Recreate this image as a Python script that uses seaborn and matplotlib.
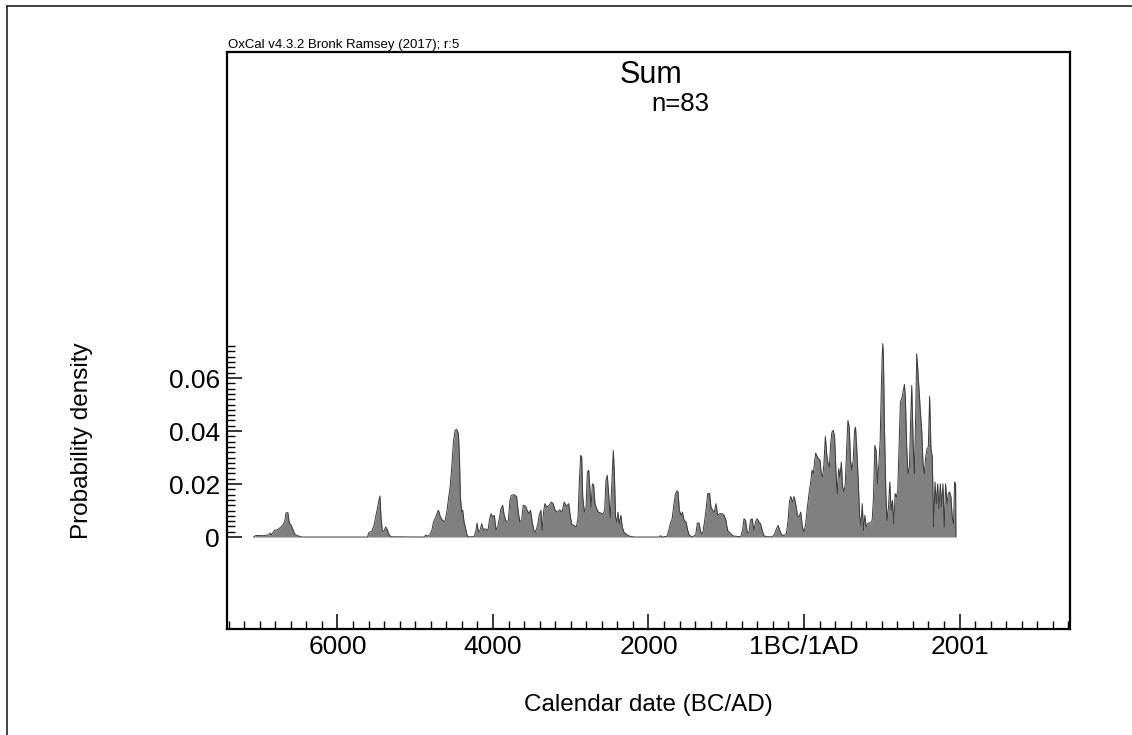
import numpy as np
import pandas as pd
import matplotlib
matplotlib.use("Agg")
import matplotlib.pyplot as plt
from matplotlib.lines import Line2D
from matplotlib.ticker import FixedLocator
import seaborn as sns

# ---- data (x: 0 = 1BC/1AD boundary, negative = BC) ----
years = [
    -7081, -7047, -6961, -6884, -6867, -6850, -6811, -6769, -6726, -6696, -6675, -6662, -6637,
    -6619, -6594, -6573, -6547, -6513, -6470, -6448,
    -5615, -5594, -5560, -5530, -5509, -5487, -5466, -5453, -5440, -5423, -5402, -5380, -5359,
    -5337, -5312,
    -4884, -4863, -4842, -4808, -4786, -4765, -4739, -4714, -4701, -4679, -4649, -4619, -4594,
    -4572, -4551, -4530, -4508, -4487, -4466, -4444, -4431, -4419, -4401, -4389, -4372, -4355,
    -4337, -4320, -4243, -4218, -4205, -4188, -4167, -4145, -4124, -4094, -4064, -4043, -4025,
    -4004, -3983, -3961, -3940, -3919, -3897, -3876, -3855, -3833, -3803, -3782, -3765, -3731,
    -3696, -3675, -3654, -3632, -3611, -3581, -3560, -3538, -3517, -3496, -3474, -3453,
    -3427, -3406, -3384, -3368, -3350, -3333, -3308, -3278, -3248, -3226, -3201, -3171, -3141,
    -3111, -3085, -3055, -3026, -3004, -2987, -2957, -2927, -2906, -2889, -2872, -2859, -2846,
    -2825, -2803, -2786, -2769, -2752, -2739, -2722, -2705, -2688, -2667, -2645, -2615, -2585,
    -2564, -2547, -2530, -2513, -2491, -2470, -2453, -2440, -2423, -2406, -2393, -2376, -2355,
    -2338, -2316, -2286, -2252, -2201, -2167,
    -1867, -1846, -1825, -1761, -1739, -1718, -1696, -1675, -1654, -1637,
    -1620, -1603, -1581, -1564, -1543, -1517, -1496, -1474, -1436, -1393, -1372, -1350, -1329,
    -1304, -1282, -1261, -1239, -1214, -1197, -1175, -1154, -1132, -1111, -1086, -1051, -1026,
    -1004, -983, -944, -910, -816, -791, -773, -752, -731, -709, -688, -667, -645, -624, -603,
    -581, -560, -538, -517, -483, -410, -380, -355, -333, -312, -291, -261, -227, -205, -188,
    -171, -150, -128, -107, -85, -64, -43, -21, 0, 21, 43, 64, 85, 103, 120, 137, 150, 171,
    205, 222, 239, 256, 274, 291, 308, 325, 342, 359, 376, 393, 410, 427, 445, 462, 479, 496,
    513, 530, 547, 564, 581, 598, 615, 632, 650, 662, 679, 697, 714, 731, 748, 765, 782, 799,
    825, 855, 876, 893, 910, 927, 945, 962, 979, 991, 1004, 1013, 1021, 1034, 1051, 1068, 1086,
    1103, 1120, 1137, 1154, 1171, 1188, 1205, 1222, 1239, 1256, 1273, 1291, 1303, 1320, 1337,
    1355, 1372, 1385, 1402, 1419, 1436, 1449, 1461, 1479, 1496, 1513, 1530, 1547, 1564, 1581,
    1598, 1615, 1632, 1649, 1667, 1684, 1701, 1718, 1735, 1752, 1769, 1786, 1803, 1820, 1838,
    1855, 1872, 1889, 1906, 1923, 1936, 1949, 1953,
]
density = [
    0, 0.0006, 0.0005, 0.0008, 0.0015, 0.0008, 0.0025, 0.0028, 0.0038, 0.0048, 0.0063, 0.0091, 0.0092,
    0.0053, 0.0045, 0.0028, 0.0010, 0.0005, 0.0001, 0,
    0, 0.0018, 0.0021, 0.0044, 0.0075, 0.0107, 0.0138, 0.0155, 0.0075, 0.0025, 0.0021, 0.0038, 0.0028,
    0.0010, 0.0001,
    0, 0.0008, 0.0003, 0.0010, 0.0025, 0.0057, 0.0073, 0.0094, 0.0101, 0.0078, 0.0063, 0.0058, 0.0094,
    0.0145, 0.0189, 0.0264, 0.0359, 0.0403, 0.0406, 0.0390, 0.0302, 0.0151, 0.0094, 0.0101, 0.0057, 0.0038,
    0.0010, 0.0001, 0.0001, 0.0025, 0.0053, 0.0019, 0.0025, 0.0050, 0.0028, 0.0031, 0.0025, 0.0069, 0.0088,
    0.0075, 0.0082, 0.0028, 0.0038, 0.0069, 0.0107, 0.0120, 0.0082, 0.0060, 0.0060, 0.0138, 0.0157, 0.0160,
    0.0153, 0.0094, 0.0057, 0.0063, 0.0120, 0.0116, 0.0101, 0.0088, 0.0101, 0.0057, 0.0025, 0.0019,
    0.0044, 0.0082, 0.0101, 0.0025, 0.0094, 0.0126, 0.0113, 0.0120, 0.0132, 0.0126, 0.0101, 0.0094, 0.0103,
    0.0094, 0.0132, 0.0116, 0.0126, 0.0075, 0.0048, 0.0044, 0.0038, 0.0075, 0.0214, 0.0308, 0.0302, 0.0151,
    0.0094, 0.0113, 0.0245, 0.0252, 0.0176, 0.0113, 0.0201, 0.0195, 0.0126, 0.0107, 0.0094, 0.0091, 0.0086,
    0.0101, 0.0214, 0.0233, 0.0164, 0.0075, 0.0214, 0.0327, 0.0252, 0.0075, 0.0057, 0.0094, 0.0050, 0.0082,
    0.0038, 0.0019, 0.0010, 0.0004, 0.0001, 0,
    0, 0.0005, 0, 0.0003, 0.0025, 0.0053, 0.0069, 0.0120, 0.0161, 0.0174,
    0.0170, 0.0101, 0.0082, 0.0094, 0.0063, 0.0057, 0.0025, 0.0006, 0.0001, 0.0008, 0.0053, 0.0053, 0.0019,
    0.0013, 0.0053, 0.0101, 0.0164, 0.0164, 0.0113, 0.0101, 0.0094, 0.0126, 0.0082, 0.0088, 0.0088, 0.0081,
    0.0063, 0.0025, 0.0013, 0.0004, 0.0001, 0.0025, 0.0069, 0.0063, 0.0019, 0.0015, 0.0065, 0.0069, 0.0025,
    0.0057, 0.0069, 0.0057, 0.0050, 0.0025, 0.0006, 0.0001, 0.0001, 0.0010, 0.0031, 0.0044, 0.0025, 0.0010,
    0.0005, 0.0013, 0.0063, 0.0132, 0.0153, 0.0132, 0.0153, 0.0126, 0.0082, 0.0075, 0.0094, 0.0038, 0.0019,
    0.0050, 0.0113, 0.0164, 0.0208, 0.0252, 0.0239, 0.0289, 0.0317, 0.0302,
    0.0289, 0.0239, 0.0226, 0.0277, 0.0380, 0.0315, 0.0277, 0.0264, 0.0352, 0.0396, 0.0403, 0.0377, 0.0252,
    0.0164, 0.0258, 0.0226, 0.0283, 0.0189, 0.0170, 0.0201, 0.0327, 0.0440, 0.0415, 0.0289, 0.0252, 0.0289,
    0.0403, 0.0415, 0.0327, 0.0214, 0.0082, 0.0044, 0.0126, 0.0025, 0.0082, 0.0038, 0.0053, 0.0053, 0.0063,
    0.0151, 0.0346, 0.0327, 0.0201, 0.0277, 0.0365, 0.0528, 0.0679, 0.0730, 0.0679, 0.0415, 0.0176, 0.0063,
    0.0113, 0.0208, 0.0101, 0.0138, 0.0050, 0.0164, 0.0151, 0.0176, 0.0340, 0.0510, 0.0522, 0.0547, 0.0576,
    0.0528, 0.0340, 0.0239, 0.0264, 0.0453, 0.0572, 0.0365, 0.0239, 0.0465, 0.0692, 0.0642, 0.0553, 0.0472,
    0.0403, 0.0277, 0.0239, 0.0302, 0.0333, 0.0340, 0.0531, 0.0333, 0.0302, 0.0038, 0.0208, 0.0126, 0.0201,
    0.0107, 0.0201, 0.0113, 0.0201, 0.0038, 0.0201, 0.0126, 0.0164, 0.0170, 0.0151, 0.0075, 0.0050, 0.0208,
    0.0201, 0,
]
x_tick_pos = [-6000, -4000, -2000, 0, 2000]
x_tick_labels = ["6000", "4000", "2000", "1BC/1AD", "2001"]
y_tick_pos = [0, 0.02, 0.04, 0.06]
y_tick_labels = ["0", "0.02", "0.04", "0.06"]

df = pd.DataFrame({"year": years, "density": density})

sns.set_theme(style="white")
plt.rcParams["font.family"] = ["Liberation Sans", "DejaVu Sans"]
plt.rcParams["text.color"] = "black"

W, H = 1132, 735
fig = plt.figure(figsize=(W / 100, H / 100), dpi=100)
ax_l, ax_r, ax_t, ax_b = 227, 1070, 52, 629
ax = fig.add_axes([ax_l / W, 1 - ax_b / H, (ax_r - ax_l) / W, (ax_b - ax_t) / H])

ax.fill_between(df["year"], 0, df["density"], color="#808080", linewidth=0)
sns.lineplot(data=df, x="year", y="density", ax=ax, color="#3a3a3a", linewidth=0.7,
             estimator=None, sort=False)

ax.set_xlim(-7420, 3420)
ax.set_ylim(-0.0347, 0.183)

for s in ax.spines.values():
    s.set_linewidth(1.6)
    s.set_color("black")

ax.xaxis.set_major_locator(FixedLocator(x_tick_pos))
ax.set_xticklabels(x_tick_labels)
ax.xaxis.set_minor_locator(FixedLocator(np.arange(-7400, 3401, 200)))
ax.yaxis.set_major_locator(FixedLocator(y_tick_pos))
ax.set_yticklabels(y_tick_labels)
ax.yaxis.set_minor_locator(FixedLocator(np.arange(0, 0.0725, 0.002)))

ax.tick_params(axis="x", which="major", direction="in", length=11, width=1.1,
               labelsize=19, pad=4, bottom=True, top=False, colors="black")
ax.tick_params(axis="x", which="minor", direction="in", length=5.5, width=1.0,
               bottom=True, top=False, colors="black")
ax.tick_params(axis="y", which="major", direction="in", length=11, width=1.1,
               labelsize=19, pad=5, left=True, right=False, colors="black")
ax.tick_params(axis="y", which="minor", direction="in", length=5.5, width=1.0,
               left=True, right=False, colors="black")
ax.set_xlabel("")
ax.set_ylabel("")
ax.grid(False)

fig.text(648 / W, 1 - 705 / H, "Calendar date (BC/AD)", ha="center", va="center",
         fontsize=17.5, color="black")
fig.text(82 / W, 1 - 441 / H, "Probability density", ha="center", va="center",
         rotation=90, fontsize=17.5, color="black")
fig.text(651 / W, 1 - 75 / H, "Sum", ha="center", va="center", fontsize=22, color="black")
fig.text(680 / W, 1 - 104 / H, "n=83", ha="center", va="center", fontsize=18.5, color="black")
fig.text(228 / W, 1 - 48 / H, "OxCal v4.3.2 Bronk Ramsey (2017); r:5", ha="left",
         va="baseline", fontsize=9.5, color="black")

# outer frame lines (left and top)
fig.add_artist(Line2D([7 / W, 7 / W], [0, 1 - 6 / H], transform=fig.transFigure,
                      color="#222222", linewidth=1.2))
fig.add_artist(Line2D([7 / W, 1], [1 - 6 / H, 1 - 6 / H], transform=fig.transFigure,
                      color="#222222", linewidth=1.2))

fig.savefig("out.png", dpi=100, facecolor="white")
